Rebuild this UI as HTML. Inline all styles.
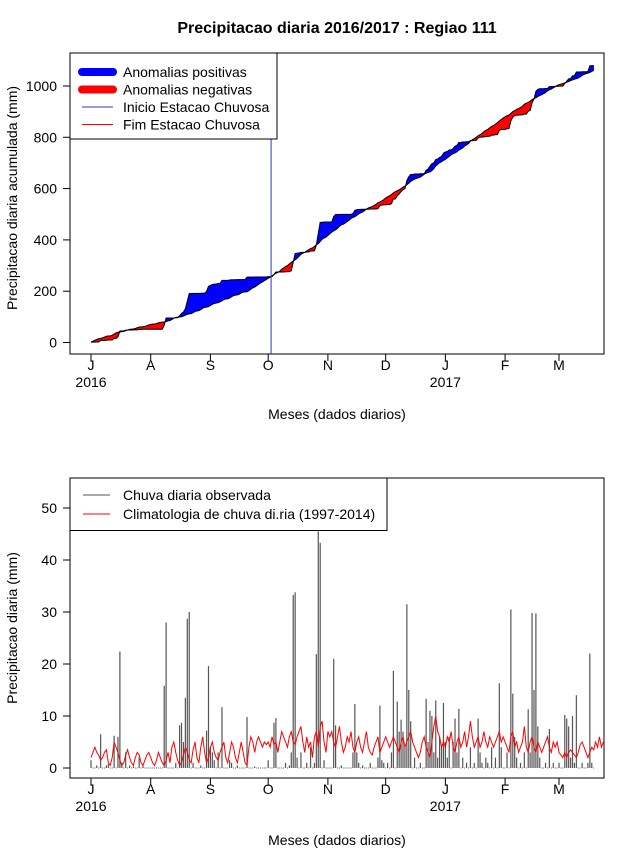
<!DOCTYPE html>
<html><head><meta charset="utf-8"><style>
body{margin:0;background:#fff;}
svg{display:block;font-family:"Liberation Sans",sans-serif;}
</style></head><body>
<svg id="chart" width="640" height="850" viewBox="0 0 640 850">
<rect x="0" y="0" width="640" height="850" fill="#fff"/>
<text x="337" y="33" font-size="16" font-weight="bold" text-anchor="middle">Precipitacao diaria 2016/2017 : Regiao 111</text>
<g id="topPanel"></g>
<g id="botPanel"></g>
</svg>
<script>
const monthLabels = ["J","A","S","O","N","D","J","F","M"];
const monthStartDays = [0,31,62,92,123,153,184,215,243];
const yearLabels = ["2016","2017"];
const yearDays = [0,184];
const topTicks = [0,200,400,600,800,1000];
const botTicks = [0,10,20,30,40,50];
const rainDay = [0,3,5,8,9,12,14,15,16,18,20,22,25,27,
 38,39,44,46,47,48,49,50,51,53,57,
 60,61,62,63,64,66,68,72,73,76,81,85,
 92,95,96,101,103,104,105,106,107,109,112,114,116,117,118,119,121,
 126,127,130,136,137,138,139,141,145,149,150,151,152,
 154,156,157,159,160,161,162,163,164,165,166,168,171,174,175,176,177,178,179,180,181,182,183,
 184,185,186,188,189,190,191,193,195,197,199,201,202,203,205,206,208,210,212,213,
 216,218,219,220,221,223,225,227,228,229,230,231,232,233,236,238,240,
 243,246,247,248,249,250,251,252,255,258,259,260];
const rainMm = [1.5,0.5,6.5,0.5,0.8,6.2,6,22.4,1,3,0.5,0.3,2,0.5,
 15.8,28,1,8.2,8.7,5,13.5,28.7,30,1,0.5,
 7.2,19.6,4,3,1.5,3,11.7,1.5,1,0.5,9.8,0.3,
 1.5,8.7,9.6,1,0.5,3,33.3,33.8,2,3,1,4,1,21.9,45.5,43.3,1.5,
 21,8.2,0.5,3,12.3,3,1,0.5,1,2,12,1.5,1,
 1,3,18.7,12.8,7,9.3,7,4,31.5,15,9,2,1,13.3,5,11,10,3,13,2,6,4,12.5,
 5,2,6,5,9.5,3,11.4,2,1,4,1,9.5,3,1,2,1,4,2,16.3,4,
 3,30.5,14.3,6,2,1,3,11.3,3,29.8,15,29.7,8,2,1,7.5,1,
 1,10.2,9.5,8,2,10,1,14,1,1,22,1];
const climMm = [2,3,4,3,2.5,1.5,2,3,3.5,1,0.5,2,5,4,3,1.5,0.5,1,2.5,3.5,2,1,0.5,2,3,2.5,1,0.5,1.5,2.5,3,
 2,1,0.5,1.5,3,2,1,0.5,1.5,3,1,4,5,3,1.5,0.5,1,2.5,4,3,1.5,1,3.5,5,2,1,4,6,3,1,2,
 4,5,3,2,1.5,3,4,5,2,1,3,5,4,2,1,3,5,3,1,0.5,4,6,5,3,5,6,5,4,5,4.5,
 5,4,6,4.5,5,3,5,7,6,5,4,6,7,5,4.5,6,7,8,5,3,6,4,5,2,6,7,4,8,9,5,3,
 7,6,7,5,4,6,8,5,3,4,6,5,7,4,3,5,6,4,3,5,7,4,3,2.5,4,5,6,3,4,5,
 6,5,4,5,6,5,4,3,5,6,4,5,6,7,5,4,3,2,3,5,6,4,3,2,5,8,10,7,6,4,5,
 4,6,5,7,4,3,5,6,4,5,7,4,6,9,6,4,5,6,4,5,7,5,4,6,5,4,5,6,7,5,6,
 5,4,3,6,7,4,5,3,4,5,8,4,3,5,6,4,3,5,4,3,4,5,6,4,3,5,4,5,
 3,2.5,2,3,2,3,3.5,3,2.5,2,3,4.5,5,4,3,2,3,4,3.5,5,4,6,4,5];
const nObsDays = 262;
const onsetDay = 93.5;

const NS="http://www.w3.org/2000/svg";
function mk(parent,tag,attrs,name){const e=document.createElementNS(NS,tag);for(const k in attrs)e.setAttribute(k,attrs[k]);


parent.appendChild(e);return e;}
const xs = d => 91 + d*1.926;
const yTop = v => 342.5 - v*0.2565;
const yBot = v => 768 - v*5.2;

const rain = new Array(nObsDays).fill(0);
rainDay.forEach((d,i)=>{ if(d<nObsDays) rain[d]=rainMm[i]; });
const cumObs=[],cumClim=[];let accA=0,accB=0;
for(let i=0;i<nObsDays;i++){accA+=rain[i];accB+=climMm[i];cumObs.push(accA);cumClim.push(accB);}

function axes(g,yTopPx,yBotPx,ticks,yf,ylab,ylabY,xlabY){
  mk(g,'rect',{x:70,y:yTopPx,width:534,height:yBotPx-yTopPx,fill:'none',stroke:'#000','stroke-width':1},'plot-frame');
  ticks.forEach(t=>{const y=yf(t);
    mk(g,'line',{x1:63,x2:70,y1:y,y2:y,stroke:'#000'},'y-tick');
    const tx=mk(g,'text',{x:57,y:y+5,'font-size':14,'text-anchor':'end'},'y-tick-label');tx.textContent=t;});
  monthStartDays.forEach((d,i)=>{const x=xs(d);
    mk(g,'line',{x1:x,x2:x,y1:yBotPx,y2:yBotPx+7,stroke:'#000'},'x-tick');
    const tx=mk(g,'text',{x:x,y:yBotPx+16,'font-size':14,'text-anchor':'middle'},'month-label');tx.textContent=monthLabels[i];});
  yearDays.forEach((d,i)=>{const tx=mk(g,'text',{x:xs(d),y:yBotPx+33,'font-size':14,'text-anchor':'middle'},'year-label');tx.textContent=yearLabels[i];});
  const xl=mk(g,'text',{x:337,y:xlabY,'font-size':14,'text-anchor':'middle'},'x-axis-title');xl.textContent='Meses (dados diarios)';
  const yl=mk(g,'text',{x:0,y:0,'font-size':14,'text-anchor':'middle',transform:`translate(17,${ylabY}) rotate(-90)`},'y-axis-title');yl.textContent=ylab;
}

const topG=document.getElementById('topPanel');
axes(topG,53,354,topTicks,yTop,'Precipitacao diaria acumulada (mm)',198,419);
const fills=mk(topG,'g',{},'anomaly-fills');
const quad=(xa,oa,ca,xb,ob,cb,pos)=>{
  mk(fills,'polygon',{points:`${xa},${yTop(oa)} ${xb},${yTop(ob)} ${xb},${yTop(cb)} ${xa},${yTop(ca)}`,fill:pos?'#0000ff':'#ff0000',stroke:pos?'#0000ff':'#ff0000','stroke-width':0.5},pos?'positive-anomaly':'negative-anomaly');
};
for(let i=0;i<nObsDays-1;i++){
  const d0=cumObs[i]-cumClim[i], d1=cumObs[i+1]-cumClim[i+1];
  const x0=xs(i),x1=xs(i+1);
  if((d0>=0)===(d1>=0)) quad(x0,cumObs[i],cumClim[i],x1,cumObs[i+1],cumClim[i+1],d0+d1>=0);
  else{const t=d0/(d0-d1);const xm=x0+t*(x1-x0);const vm=cumClim[i]+t*(cumClim[i+1]-cumClim[i]);
    quad(x0,cumObs[i],cumClim[i],xm,vm,vm,d0>=0);quad(xm,vm,vm,x1,cumObs[i+1],cumClim[i+1],d1>=0);}
}
mk(topG,'polyline',{points:cumObs.map((v,i)=>`${xs(i)},${yTop(v)}`).join(' '),fill:'none',stroke:'#000','stroke-width':1},'observed-cumulative-line');
mk(topG,'polyline',{points:cumClim.map((v,i)=>`${xs(i)},${yTop(v)}`).join(' '),fill:'none',stroke:'#000','stroke-width':1},'climatology-cumulative-line');
mk(topG,'line',{x1:xs(onsetDay),x2:xs(onsetDay),y1:53,y2:354,stroke:'#3333cc','stroke-width':1},'rainy-season-onset-line');
mk(topG,'rect',{x:70,y:53,width:207,height:86,fill:'#fff',stroke:'#000'},'legend-box');
const lt=[['Anomalias positivas','#0000ff',8],['Anomalias negativas','#ff0000',8],['Inicio Estacao Chuvosa','#3333cc',1],['Fim Estacao Chuvosa','#ff0000',1]];
lt.forEach((e,i)=>{const y=72+i*17.5;
  mk(topG,'line',{x1:82,x2:113,y1:y,y2:y,stroke:e[1],'stroke-width':e[2],'stroke-linecap':e[2]>1?'round':'butt'},'legend-swatch');
  const t=mk(topG,'text',{x:123,y:y+5,'font-size':14},'legend-entry');t.textContent=e[0];});

const botG=document.getElementById('botPanel');
axes(botG,478,778,botTicks,yBot,'Precipitacao diaria (mm)',628,845);
const bars=mk(botG,'g',{},'daily-rain-bars');
for(let i=0;i<nObsDays;i++){
  if(rain[i]>0) mk(bars,'line',{x1:xs(i),x2:xs(i),y1:yBot(0),y2:Math.max(479,yBot(rain[i])),stroke:'#555','stroke-width':1.2},'rain-bar');
  else mk(bars,'rect',{x:xs(i)-0.5,y:yBot(0)-0.5,width:1,height:1,fill:'#666'},'rain-zero-point');
}
mk(botG,'polyline',{points:climMm.map((v,i)=>`${Math.min(604,xs(i))},${yBot(v)}`).join(' '),fill:'none',stroke:'#ff0000','stroke-width':1},'climatology-line');
mk(botG,'rect',{x:70,y:478,width:317,height:52.5,fill:'#fff',stroke:'#000'},'legend-box');
[['Chuva diaria observada','#555'],['Climatologia de chuva di.ria (1997-2014)','#ff0000']].forEach((e,i)=>{const y=495+i*19;
  mk(botG,'line',{x1:83,x2:110,y1:y,y2:y,stroke:e[1]},'legend-swatch');
  const t=mk(botG,'text',{x:123,y:y+5,'font-size':14},'legend-entry');t.textContent=e[0];});
</script>
</body></html>
